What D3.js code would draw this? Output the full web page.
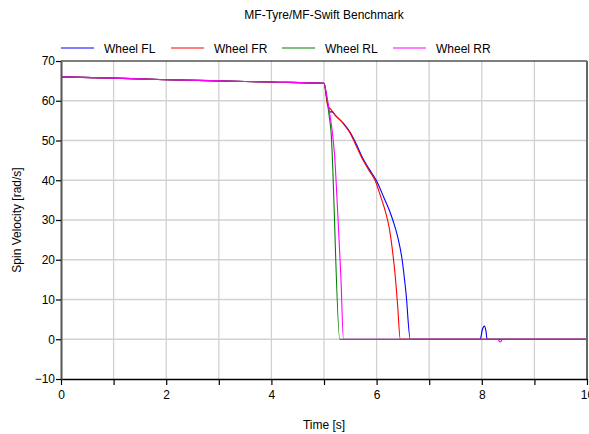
<!DOCTYPE html>
<html><head><meta charset="utf-8">
<script src="https://cdn.jsdelivr.net/npm/d3@7"></script>
<style>body{margin:0;background:#fff}svg{display:block}text{font-family:"Liberation Sans",Arial,sans-serif}</style>
</head><body>
<svg id="c" width="589" height="434"></svg>
<script>
const title = "MF-Tyre/MF-Swift Benchmark";
const xLabel = "Time [s]";
const yLabel = "Spin Velocity [rad/s]";
const seriesNames = ["Wheel FL", "Wheel FR", "Wheel RL", "Wheel RR"];
const seriesColors = ["#0000ff", "#ff0000", "#008000", "#ff00ff"];
const xTicks = [0, 2, 4, 6, 8, 10];
const xMinorTicks = [0,1,2,3,4,5,6,7,8,9,10];
const yTicks = [-10, 0, 10, 20, 30, 40, 50, 60, 70];

const tFL = [0,1,2,3,4,5,5.06,5.11,5.16,5.21,5.37,5.49,5.6,5.72,5.86,6.0,6.14,6.24,6.32,6.4,6.48,6.56,6.64,7,7.97,8.01,8.05,8.08,8.1,9,10];
const vFL = [66.0,65.7,65.3,65.0,64.7,64.4,60.0,57.2,57.2,56.4,54.3,52.2,49.5,46.0,42.8,39.8,35.6,32.5,29.5,25.8,20.5,11.5,0,0,0,2.4,3.3,2.0,0,0,0];
const tFR = [0,1,2,3,4,5,5.07,5.12,5.2,5.37,5.49,5.6,5.72,5.85,5.97,6.08,6.17,6.24,6.3,6.35,6.4,6.45,7,10];
const vFR = [66.0,65.7,65.3,65.0,64.7,64.4,58.8,58.0,56.6,54.2,52.0,49.0,45.6,42.6,40.0,35.8,32.0,28.0,22.5,16.5,8.5,0,0,0];
const tRL = [0,1,2,3,4,5,5.05,5.1,5.13,5.3,6,10];
const vRL = [66.0,65.7,65.3,65.0,64.7,64.4,61.0,56.0,52.8,0,0,0];
const tRR = [0,1,2,3,4,5,5.05,5.1,5.15,5.2,5.26,5.32,5.37,7,8.3,8.35,8.4,10];
const vRR = [66.0,65.7,65.3,65.0,64.7,64.4,61.5,57.5,53.0,46.5,32.0,16.0,0,0,0,-0.7,0,0];

const seriesT = [tFL, tFR, tRL, tRR];
const seriesV = [vFL, vFR, vRL, vRR];

const svg = d3.select("#c");
const L = 61, R = 587, T = 61, B = 379;
const x = d3.scaleLinear().domain([0, 10]).range([L, R]);
const y = d3.scaleLinear().domain([-10, 70]).range([B, T]);

// grid
svg.append("g").selectAll("line").data(xMinorTicks.filter(d => d > 0 && d < 10)).join("line")
  .attr("x1", d => x(d)).attr("x2", d => x(d)).attr("y1", T).attr("y2", B)
  .attr("stroke", "#d2d2d2").attr("stroke-width", 1.3);
svg.append("g").selectAll("line").data(yTicks.filter(d => d > -10 && d < 70)).join("line")
  .attr("x1", L).attr("x2", R).attr("y1", d => y(d)).attr("y2", d => y(d))
  .attr("stroke", "#d2d2d2").attr("stroke-width", 1.3);

// clip
svg.append("clipPath").attr("id", "clip").append("rect")
  .attr("x", L).attr("y", T).attr("width", R - L).attr("height", B - T);

const line = d3.line().x(d => x(d[0])).y(d => y(d[1])).curve(d3.curveMonotoneX);
const g = svg.append("g").attr("clip-path", "url(#clip)");
seriesNames.forEach((n, i) => {
  const pts = seriesT[i].map((t, j) => [t, seriesV[i][j]]);
  g.append("path").datum(pts).attr("d", line)
    .attr("fill", "none").attr("stroke", seriesColors[i]).attr("stroke-width", 1.1);
});

// frame
svg.append("line").attr("x1", L).attr("x2", R).attr("y1", T).attr("y2", T).attr("stroke", "#000").attr("stroke-width", 1.2);
svg.append("line").attr("x1", R).attr("x2", R).attr("y1", T).attr("y2", B).attr("stroke", "#666").attr("stroke-width", 2);

// axes
const xAxis = svg.append("g").attr("transform", `translate(0,${B})`)
  .call(d3.axisBottom(x).tickValues(xMinorTicks).tickSize(6).tickSizeOuter(0)
    .tickFormat(d => xTicks.includes(d) ? d3.format("d")(d) : ""));
xAxis.select(".domain").attr("stroke", "#000").attr("stroke-width", 1.5);
xAxis.selectAll(".tick line").attr("stroke", "#000").attr("stroke-width", 1.2);
xAxis.selectAll("text").attr("font-size", 12).attr("fill", "#000").attr("dy", "0.9em")
  .style("font-family", "'Liberation Sans', Arial, sans-serif");

const yAxis = svg.append("g").attr("transform", `translate(${L},0)`)
  .call(d3.axisLeft(y).tickValues(yTicks).tickSize(5).tickSizeOuter(0).tickFormat(d3.format("d")));
yAxis.select(".domain").attr("stroke", "#555").attr("stroke-width", 2);
yAxis.selectAll(".tick line").attr("stroke", "#000").attr("stroke-width", 1.2);
yAxis.selectAll("text").attr("font-size", 12).attr("fill", "#000").attr("x", -6)
  .style("font-family", "'Liberation Sans', Arial, sans-serif");

// titles
svg.append("text").attr("x", 324).attr("y", 19).attr("text-anchor", "middle")
  .attr("font-size", 12).attr("fill", "#000").text(title);
svg.append("text").attr("x", 324).attr("y", 429).attr("text-anchor", "middle")
  .attr("font-size", 12).attr("fill", "#000").text(xLabel);
svg.append("text").attr("transform", `translate(21,${(T + B) / 2}) rotate(-90)`).attr("text-anchor", "middle")
  .attr("font-size", 12).attr("fill", "#000").text(yLabel);

// legend
const legX = [61, 171, 282, 393];
seriesNames.forEach((n, i) => {
  svg.append("line").attr("x1", legX[i]).attr("x2", legX[i] + 33).attr("y1", 48).attr("y2", 48)
    .attr("stroke", seriesColors[i]).attr("stroke-width", 1.2);
  svg.append("text").attr("x", legX[i] + 43).attr("y", 53).attr("font-size", 12).attr("fill", "#000").text(n);
});
</script>
</body></html>
